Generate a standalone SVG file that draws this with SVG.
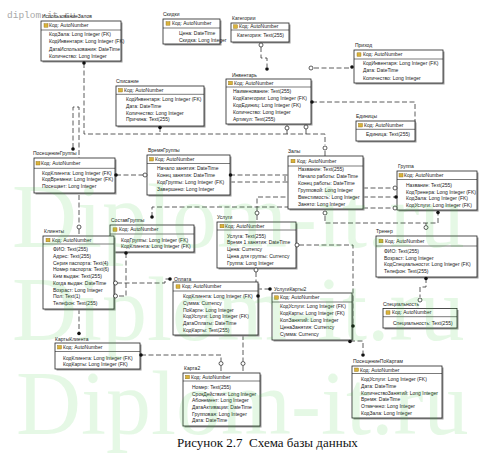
<svg xmlns="http://www.w3.org/2000/svg" width="499" height="460" viewBox="0 0 499 460">
<style>
.box{fill:#fff;stroke:#222;stroke-width:0.8}
.sh{fill:#9a9a9a}
.sep{stroke:#222;stroke-width:0.6}
.key{fill:#d9b23a;stroke:#8a6a10;stroke-width:0.4}
.f{font-family:"Liberation Sans",Arial,sans-serif;font-size:5px;fill:#222}
.ttl{font-family:"Liberation Sans",Arial,sans-serif;font-size:5px;fill:#222}
.ln{fill:none;stroke:#333;stroke-width:0.8;stroke-dasharray:5 2.5}
.dot{fill:#111}
.oc{fill:#fff;stroke:#333;stroke-width:0.8}
.wm{font-family:"Liberation Serif",serif;font-size:90px;fill:#33cc33;fill-opacity:0.13}
</style>
<rect width="499" height="460" fill="#fff"/>
<text x="7" y="17.5" font-family="Liberation Mono,monospace" font-size="9.5" fill="#a8a8a8">diplom-it.ru</text>

<g id="connectors">
<path class="ln" d="M84,63 V134 H325 V145"/>
<path class="ln" d="M325,151 V156"/>
<path class="ln" d="M287,124 V126 M287,130 V134"/>
<path class="ln" d="M306,124 V125 M306,129 V134"/>
<path class="ln" d="M160,127 V134"/>
<path class="ln" d="M73,148 V107 H79 V225"/>
<path class="ln" d="M79,229 V236"/>
<path class="ln" d="M261,42 V43 M261,47 V58 H267 V67"/>
<path class="ln" d="M314,68 H352"/>
<path class="ln" d="M312,102 H415 V130"/>
<path class="ln" d="M116,175 H145"/>
<path class="ln" d="M230,175 H288 M230,182 H288 M285,176 V182"/>
<path class="ln" d="M363,188 H395 M363,197 H396 M363,208 H395"/>
<path class="ln" d="M152,217 V207 H288"/>
<path class="ln" d="M257,211 V197 H288 M257,215 V222"/>
<path class="ln" d="M325,216 V223 H438 V213 M426,223 V225"/>
<path class="ln" d="M426,278 V287 H420 V297"/>
<path class="ln" d="M299,245 H353 V326"/>
<path class="ln" d="M350,341 H363 V353"/>
<path class="ln" d="M256,272 V296 M257,289 H270"/>
<path class="ln" d="M117,283 H165 V279 H170"/>
<path class="ln" d="M126,253 V296 H117"/>
<path class="ln" d="M79,309 V333"/>
<path class="ln" d="M141,355 H221 V361 M221,366 V373"/>
<path class="ln" d="M243,335 V361 M243,366 V373"/>
</g>

<g id="t-ispzal">
<text class="ttl" x="42" y="18">ИспользованиеЗалов</text>
<rect class="sh" x="42.5" y="22.5" width="80" height="40"/>
<rect class="box" x="41" y="21" width="80" height="40"/>
<line class="sep" x1="41" y1="30" x2="121" y2="30"/>
<rect class="key" x="44" y="23.7" width="4" height="3.5"/>
<text class="f" x="49" y="27.3">Код: AutoNumber</text>
<text class="f" x="49" y="36.3">КодЗала: Long Integer (FK)</text>
<text class="f" x="49" y="43.3">КодИнвентаря: Long Integer (FK)</text>
<text class="f" x="49" y="50.5">ДатаИспользования: DateTime</text>
<text class="f" x="49" y="57.6">Количество: Long Integer</text>
</g>

<g id="t-skidki">
<text class="ttl" x="163" y="16">Скидки</text>
<rect class="sh" x="164.5" y="20.5" width="57" height="25"/>
<rect class="box" x="163" y="19" width="57" height="25"/>
<line class="sep" x1="163" y1="28" x2="220" y2="28"/>
<rect class="key" x="166" y="21.7" width="4" height="3.5"/>
<text class="f" x="172" y="25.3">Код: AutoNumber</text>
<text class="f" x="179" y="35">Цена: DateTime</text>
<text class="f" x="179" y="41.5">Скидка: Long Integer</text>
</g>

<g id="t-kategorii">
<text class="ttl" x="232" y="19.5">Категории</text>
<rect class="sh" x="232.5" y="24.5" width="58" height="19"/>
<rect class="box" x="231" y="23" width="58" height="19"/>
<line class="sep" x1="231" y1="30" x2="289" y2="30"/>
<rect class="key" x="233.5" y="24.8" width="4" height="3.5"/>
<text class="f" x="239" y="28.3">Код: AutoNumber</text>
<text class="f" x="237" y="36.8">Категория: Text(255)</text>
</g>

<g id="t-inventar">
<text class="ttl" x="232" y="76.5">Инвентарь</text>
<rect class="sh" x="227.5" y="80.5" width="85" height="45"/>
<rect class="box" x="226" y="79" width="85" height="45"/>
<line class="sep" x1="226" y1="87" x2="311" y2="87"/>
<rect class="key" x="228.5" y="81.3" width="4" height="3.5"/>
<text class="f" x="234" y="84.8">Код: AutoNumber</text>
<text class="f" x="233" y="93.3">Наименование: Text(255)</text>
<text class="f" x="233" y="100.1">КодКатегории: Long Integer (FK)</text>
<text class="f" x="233" y="106.9">КодЕдиниц: Long Integer (FK)</text>
<text class="f" x="233" y="113.7">Количество: Long Integer</text>
<text class="f" x="233" y="120.5">Артикул: Text(255)</text>
</g>

<g id="t-prihod">
<text class="ttl" x="355" y="47">Приход</text>
<rect class="sh" x="355.5" y="51.5" width="89" height="33"/>
<rect class="box" x="354" y="50" width="89" height="33"/>
<line class="sep" x1="354" y1="59" x2="443" y2="59"/>
<rect class="key" x="357" y="52.8" width="4" height="3.5"/>
<text class="f" x="363" y="56.3">Код: AutoNumber</text>
<text class="f" x="363" y="65.1">КодИнвентаря: Long Integer (FK)</text>
<text class="f" x="363" y="72.3">Дата: DateTime</text>
<text class="f" x="363" y="79.5">Количество: Long Integer</text>
</g>

<g id="t-edinicy">
<text class="ttl" x="356" y="118">Единицы</text>
<rect class="sh" x="357.5" y="122.5" width="59" height="20"/>
<rect class="box" x="356" y="121" width="59" height="20"/>
<line class="sep" x1="356" y1="129.3" x2="415" y2="129.3"/>
<rect class="key" x="358.5" y="123.5" width="4" height="3.5"/>
<text class="f" x="364" y="127">Код: AutoNumber</text>
<text class="f" x="366" y="136">Единица: Text(255)</text>
</g>

<g id="t-spisanie">
<text class="ttl" x="116" y="83">Списание</text>
<rect class="sh" x="117.5" y="87.5" width="88" height="40"/>
<rect class="box" x="116" y="86" width="88" height="40"/>
<line class="sep" x1="116" y1="94.3" x2="204" y2="94.3"/>
<rect class="key" x="118.5" y="88.5" width="4" height="3.5"/>
<text class="f" x="124" y="92">Код: AutoNumber</text>
<text class="f" x="126" y="101.1">КодИнвентаря: Long Integer (FK)</text>
<text class="f" x="126" y="107.8">Дата: DateTime</text>
<text class="f" x="126" y="114.6">Количество: Long Integer</text>
<text class="f" x="126" y="121.4">Причина: Text(255)</text>
</g>

<g id="t-posgr">
<text class="ttl" x="33" y="155">ПосещениеГруппы</text>
<rect class="sh" x="35.5" y="159.5" width="81" height="35"/>
<rect class="box" x="34" y="158" width="81" height="35"/>
<line class="sep" x1="34" y1="168.3" x2="115" y2="168.3"/>
<rect class="key" x="36" y="161.5" width="4" height="3.5"/>
<text class="f" x="41" y="165">Код: AutoNumber</text>
<text class="f" x="42" y="174.5">КодКлиента: Long Integer (FK)</text>
<text class="f" x="42" y="181.1">КодВремени: Long Integer (FK)</text>
<text class="f" x="42" y="187.8">Посещает: Long Integer</text>
</g>

<g id="t-vremya">
<text class="ttl" x="148" y="152">ВремяГруппы</text>
<rect class="sh" x="148.5" y="156.5" width="83" height="40"/>
<rect class="box" x="147" y="155" width="83" height="40"/>
<line class="sep" x1="147" y1="163.5" x2="230" y2="163.5"/>
<rect class="key" x="149.5" y="157.5" width="4" height="3.5"/>
<text class="f" x="155" y="161">Код: AutoNumber</text>
<text class="f" x="157" y="170.1">Начало занятия: DateTime</text>
<text class="f" x="157" y="176.8">Конец занятия: DateTime</text>
<text class="f" x="157" y="183.5">КодГруппы: Long Integer (FK)</text>
<text class="f" x="157" y="190.5">Завершено: Long Integer</text>
</g>

<g id="t-zaly">
<text class="ttl" x="288" y="153">Залы</text>
<rect class="sh" x="289.5" y="157.5" width="75" height="53"/>
<rect class="box" x="288" y="156" width="75" height="53"/>
<line class="sep" x1="288" y1="166" x2="363" y2="166"/>
<rect class="key" x="291" y="159.3" width="4" height="3.5"/>
<text class="f" x="297" y="162.8">Код: AutoNumber</text>
<text class="f" x="298" y="171.3">Название: Text(255)</text>
<text class="f" x="298" y="178.2">Начало работы: DateTime</text>
<text class="f" x="298" y="185.1">Конец работы: DateTime</text>
<text class="f" x="298" y="192">Групповой: Long Integer</text>
<text class="f" x="298" y="198.9">Вместимость: Long Integer</text>
<text class="f" x="298" y="205.8">Занято: Long Integer</text>
</g>

<g id="t-gruppa">
<text class="ttl" x="398" y="168">Группа</text>
<rect class="sh" x="398.5" y="172.5" width="80" height="39"/>
<rect class="box" x="397" y="171" width="80" height="39"/>
<line class="sep" x1="397" y1="179.5" x2="477" y2="179.5"/>
<rect class="key" x="399" y="173.5" width="4" height="3.5"/>
<text class="f" x="404" y="177">Код: AutoNumber</text>
<text class="f" x="406" y="186.8">Название: Text(255)</text>
<text class="f" x="406" y="193.5">КодТренера: Long Integer (FK)</text>
<text class="f" x="406" y="200.2">КодЗала: Long Integer (FK)</text>
<text class="f" x="406" y="206.9">КодУслуги: Long Integer (FK)</text>
</g>

<g id="t-sostav">
<text class="ttl" x="111" y="222">СоставГруппы</text>
<rect class="sh" x="111.5" y="226.5" width="84" height="27"/>
<rect class="box" x="110" y="225" width="84" height="27"/>
<line class="sep" x1="110" y1="234" x2="194" y2="234"/>
<rect class="key" x="113" y="227.8" width="4" height="3.5"/>
<text class="f" x="119" y="231.3">Код: AutoNumber</text>
<text class="f" x="121" y="241.8">КодГруппы: Long Integer (FK)</text>
<text class="f" x="121" y="248.1">КодКлиента: Long Integer (FK)</text>
</g>

<g id="t-klienty">
<text class="ttl" x="44" y="233">Клиенты</text>
<rect class="sh" x="44.5" y="237.5" width="71" height="73"/>
<rect class="box" x="43" y="236" width="71" height="73"/>
<line class="sep" x1="43" y1="244" x2="114" y2="244"/>
<rect class="key" x="46" y="238.3" width="4" height="3.5"/>
<text class="f" x="52" y="241.8">Код: AutoNumber</text>
<text class="f" x="53" y="251.1">ФИО: Text(255)</text>
<text class="f" x="53" y="257.9">Адрес: Text(255)</text>
<text class="f" x="53" y="264.6">Серия паспорта: Text(4)</text>
<text class="f" x="53" y="271.4">Номер паспорта: Text(6)</text>
<text class="f" x="53" y="278.1">Кем выдан: Text(255)</text>
<text class="f" x="53" y="284.9">Когда выдан: DateTime</text>
<text class="f" x="53" y="291.6">Возраст: Long Integer</text>
<text class="f" x="53" y="298.4">Пол: Text(1)</text>
<text class="f" x="53" y="305.1">Телефон: Text(255)</text>
</g>

<g id="t-uslugi">
<text class="ttl" x="217" y="219">Услуги</text>
<rect class="sh" x="218.5" y="223.5" width="79" height="46"/>
<rect class="box" x="217" y="222" width="79" height="46"/>
<line class="sep" x1="217" y1="230" x2="296" y2="230"/>
<rect class="key" x="220" y="224.3" width="4" height="3.5"/>
<text class="f" x="225" y="227.8">Код: AutoNumber</text>
<text class="f" x="227" y="237.5">Услуга: Text(255)</text>
<text class="f" x="227" y="244.3">Время 1 занятия: DateTime</text>
<text class="f" x="227" y="251.1">Цена: Currency</text>
<text class="f" x="227" y="257.9">Цена для группы: Currency</text>
<text class="f" x="227" y="264.7">Группа: Long Integer</text>
</g>

<g id="t-trener">
<text class="ttl" x="376" y="233">Тренер</text>
<rect class="sh" x="377.5" y="237.5" width="101" height="41"/>
<rect class="box" x="376" y="236" width="101" height="41"/>
<line class="sep" x1="376" y1="246" x2="477" y2="246"/>
<rect class="key" x="379" y="239.3" width="4" height="3.5"/>
<text class="f" x="385" y="242.8">Код: AutoNumber</text>
<text class="f" x="384" y="252.8">ФИО: Text(255)</text>
<text class="f" x="384" y="259.5">Возраст: Long Integer</text>
<text class="f" x="384" y="266.2">КодСпециальности: Long Integer (FK)</text>
<text class="f" x="384" y="272.9">Телефон: Text(255)</text>
</g>

<g id="t-oplata">
<text class="ttl" x="174" y="280.5">Оплата</text>
<rect class="sh" x="174.5" y="283.5" width="85" height="53"/>
<rect class="box" x="173" y="282" width="85" height="53"/>
<line class="sep" x1="173" y1="291" x2="258" y2="291"/>
<rect class="key" x="176" y="284.8" width="4" height="3.5"/>
<text class="f" x="182" y="288.3">Код: AutoNumber</text>
<text class="f" x="183" y="298.1">КодКлиента: Long Integer (FK)</text>
<text class="f" x="183" y="304.8">Сумма: Currency</text>
<text class="f" x="183" y="311.5">ПоКарте: Long Integer</text>
<text class="f" x="183" y="318.2">КодУслуги: Long Integer (FK)</text>
<text class="f" x="183" y="324.9">ДатаОплаты: DateTime</text>
<text class="f" x="183" y="331.6">КодКарты: Text(255)</text>
</g>

<g id="t-uslkarty2">
<text class="ttl" x="274" y="291">УслугиКарты2</text>
<rect class="sh" x="273.5" y="294.5" width="80" height="47"/>
<rect class="box" x="272" y="293" width="80" height="47"/>
<line class="sep" x1="272" y1="302" x2="352" y2="302"/>
<rect class="key" x="274.5" y="295.8" width="4" height="3.5"/>
<text class="f" x="280" y="299.3">Код: AutoNumber</text>
<text class="f" x="280" y="308.3">КодУслуги: Long Integer (FK)</text>
<text class="f" x="280" y="315.3">КодКарты: Long Integer (FK)</text>
<text class="f" x="280" y="322.3">КолЗанятий: Long Integer</text>
<text class="f" x="280" y="329.3">ЦенаЗанятия: Currency</text>
<text class="f" x="280" y="336.3">Сумма: Currency</text>
</g>

<g id="t-spec">
<text class="ttl" x="383" y="306">Специальность</text>
<rect class="sh" x="384.5" y="310" width="74" height="19.5"/>
<rect class="box" x="383" y="308.5" width="74" height="19.5"/>
<line class="sep" x1="383" y1="316.7" x2="457" y2="316.7"/>
<rect class="key" x="386" y="310.8" width="4" height="3.5"/>
<text class="f" x="392" y="314.3">Код: AutoNumber</text>
<text class="f" x="393" y="325">Специальность: Text(255)</text>
</g>

<g id="t-kartyklienta">
<text class="ttl" x="55" y="340.5">КартыКлиента</text>
<rect class="sh" x="56.5" y="344.5" width="85" height="26"/>
<rect class="box" x="55" y="343" width="85" height="26"/>
<line class="sep" x1="55" y1="351.5" x2="140" y2="351.5"/>
<rect class="key" x="57.5" y="345.5" width="4" height="3.5"/>
<text class="f" x="63" y="349">Код: AutoNumber</text>
<text class="f" x="63" y="360.1">КодКлиента: Long Integer (FK)</text>
<text class="f" x="63" y="366.1">КодКарты: Long Integer (FK)</text>
</g>

<g id="t-karta2">
<text class="ttl" x="184" y="370">Карта2</text>
<rect class="sh" x="184.5" y="374.5" width="77" height="53"/>
<rect class="box" x="183" y="373" width="77" height="53"/>
<line class="sep" x1="183" y1="381" x2="260" y2="381"/>
<rect class="key" x="185.5" y="375.3" width="4" height="3.5"/>
<text class="f" x="191" y="378.8">Код: AutoNumber</text>
<text class="f" x="192" y="389.1">Номер: Text(255)</text>
<text class="f" x="192" y="395.7">СрокДействия: Long Integer</text>
<text class="f" x="192" y="402.3">Абонемент: Long Integer</text>
<text class="f" x="192" y="408.9">ДатаАктивации: DateTime</text>
<text class="f" x="192" y="415.5">Групповая: Long Integer</text>
<text class="f" x="192" y="422.1">Дата: DateTime</text>
</g>

<g id="t-poskartam">
<text class="ttl" x="353" y="363">ПосещениеПоКартам</text>
<rect class="sh" x="353.5" y="367.5" width="90" height="52"/>
<rect class="box" x="352" y="366" width="90" height="52"/>
<line class="sep" x1="352" y1="373.5" x2="442" y2="373.5"/>
<rect class="key" x="354.5" y="368" width="4" height="3.5"/>
<text class="f" x="360" y="371.6">Код: AutoNumber</text>
<text class="f" x="361" y="381.1">КодУслуги: Long Integer (FK)</text>
<text class="f" x="361" y="387.8">Дата: DateTime</text>
<text class="f" x="361" y="394.5">КоличествоЗанятий: Long Integer</text>
<text class="f" x="361" y="401.2">Время: DateTime</text>
<text class="f" x="361" y="407.9">Отмечено: Long Integer</text>
<text class="f" x="361" y="414.6">КодЗала: Long Integer</text>
</g>

<g id="connector-ends">
<circle class="dot" cx="84" cy="63" r="1.8"/>
<circle class="oc" cx="325" cy="148" r="2"/>
<circle class="oc" cx="287" cy="128" r="2"/>
<circle class="oc" cx="306" cy="127" r="2"/>
<circle class="dot" cx="160" cy="127.5" r="1.8"/>
<circle class="dot" cx="73" cy="149" r="1.8"/>
<circle class="oc" cx="79" cy="227" r="2"/>
<circle class="oc" cx="261" cy="45" r="2"/>
<circle class="dot" cx="267" cy="69" r="1.8"/>
<circle class="oc" cx="311" cy="68" r="2"/>
<circle class="dot" cx="352" cy="67" r="1.8"/>
<circle class="dot" cx="312" cy="102" r="1.8"/>
<circle class="dot" cx="116" cy="175" r="1.8"/>
<circle class="oc" cx="145" cy="175" r="2"/>
<circle class="dot" cx="230.5" cy="175" r="1.8"/>
<circle class="oc" cx="395" cy="188" r="2"/>
<circle class="dot" cx="396" cy="197" r="1.8"/>
<circle class="oc" cx="395" cy="208" r="2"/>
<circle class="dot" cx="152" cy="217" r="1.8"/>
<circle class="oc" cx="257" cy="213" r="2"/>
<circle class="oc" cx="325" cy="213" r="2"/>
<circle class="dot" cx="438" cy="212.5" r="1.8"/>
<circle class="oc" cx="426" cy="227.5" r="2"/>
<circle class="dot" cx="426" cy="278.5" r="1.8"/>
<circle class="oc" cx="420" cy="300" r="2"/>
<circle class="oc" cx="297" cy="245" r="2"/>
<circle class="dot" cx="353" cy="326" r="1.8"/>
<circle class="dot" cx="350" cy="341.5" r="1.8"/>
<circle class="dot" cx="363" cy="355" r="1.8"/>
<circle class="oc" cx="256" cy="270" r="2"/>
<circle class="dot" cx="258" cy="296" r="1.8"/>
<circle class="dot" cx="270" cy="289" r="1.8"/>
<circle class="oc" cx="115.5" cy="283" r="2"/>
<circle class="dot" cx="170" cy="279" r="1.8"/>
<circle class="dot" cx="126" cy="253" r="1.8"/>
<circle class="oc" cx="115.5" cy="296" r="2"/>
<circle class="dot" cx="79" cy="333.5" r="1.8"/>
<circle class="dot" cx="141" cy="355" r="1.8"/>
<circle class="oc" cx="221" cy="363.5" r="2"/>
<circle class="oc" cx="243" cy="363.5" r="2"/>
</g>

<text x="177" y="447" font-family="Liberation Serif,serif" font-size="13" fill="#111" style="white-space:pre">Рисунок 2.7  Схема базы данных</text>

<g id="watermark">
<text class="wm" x="12" y="247">Diplom-it.ru</text>
<text class="wm" x="12" y="340">Diplom-it.ru</text>
<text class="wm" x="16" y="434">Diplom-it.ru</text>
</g>
</svg>
